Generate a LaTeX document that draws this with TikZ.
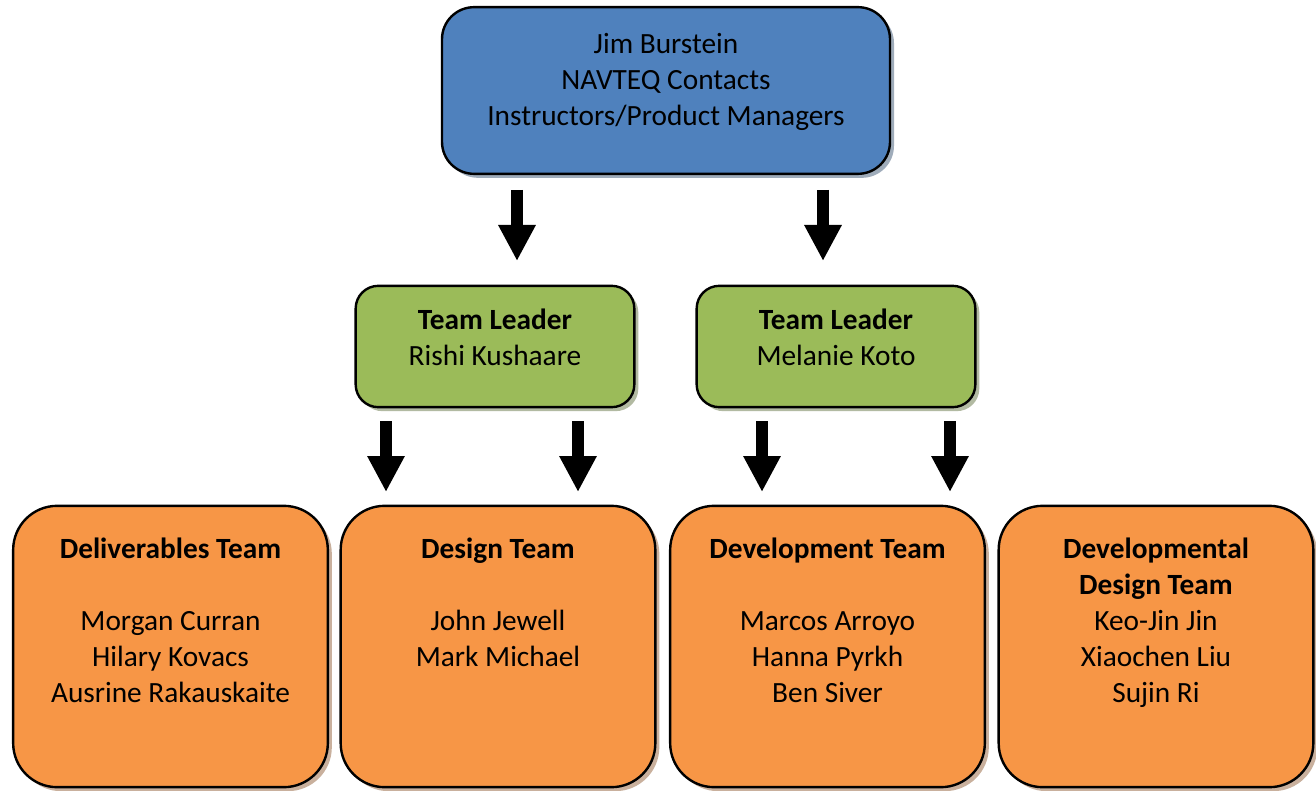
\documentclass[tikz,border=0pt]{standalone}
\usepackage{fontspec}
\setmainfont{Carlito}
\usetikzlibrary{arrows.meta,shadows}
\definecolor{topblue}{HTML}{4F81BD}
\definecolor{leadgreen}{HTML}{9BBB59}
\definecolor{teamorange}{HTML}{F79646}
\begin{document}
\begin{tikzpicture}[x=0.75pt, y=-0.75pt,
    box/.style={draw=black, line width=1.8pt},
    topbox/.style={box, fill=topblue, rounded corners=24pt,
        minimum width=336pt, minimum height=125pt,
        drop shadow={shadow xshift=3pt, shadow yshift=-3pt, fill=topblue!55!black, opacity=.45}},
    leadbox/.style={box, fill=leadgreen, rounded corners=17pt,
        minimum width=209pt, minimum height=91pt,
        drop shadow={shadow xshift=3pt, shadow yshift=-3pt, fill=leadgreen!55!black, opacity=.45}},
    teambox/.style={box, fill=teamorange, rounded corners=33pt,
        minimum width=236pt, minimum height=211pt,
        drop shadow={shadow xshift=3pt, shadow yshift=-3pt, fill=teamorange!55!black, opacity=.45}},
    txt/.style={anchor=north, inner sep=0pt, align=center, font=\fontsize{22}{27}\selectfont},
    blockarrow/.style={line width=9pt, -{Triangle[width=26.25pt, length=27pt]}}]
    \fill[white] (0,0) rectangle (1316,791);
    \useasboundingbox (0,0) rectangle (1316,791);

    % top
    \node[topbox] (navteq) at (666,90.5) {};
    \node[txt] (navteq-txt) at (666,33) {Jim Burstein\\NAVTEQ Contacts\\Instructors/Product Managers};

    % team leaders
    \node[leadbox] (leadA) at (495,346.5) {};
    \node[txt] (leadA-txt) at (495,309) {\textbf{Team Leader}\\Rishi Kushaare};
    \node[leadbox] (leadB) at (836,346.5) {};
    \node[txt] (leadB-txt) at (836,309) {\textbf{Team Leader}\\Melanie Koto};

    % teams
    \node[teambox] (deliver) at (170.5,646.5) {};
    \node[txt] (deliver-txt) at (170.5,538) {\textbf{Deliverables Team}\\\strut\\Morgan Curran\\Hilary Kovacs\\Ausrine Rakauskaite};
    \node[teambox] (design) at (498,646.5) {};
    \node[txt] (design-txt) at (498,538) {\textbf{Design Team}\\\strut\\John Jewell\\Mark Michael};
    \node[teambox] (develop) at (827.5,646.5) {};
    \node[txt] (develop-txt) at (827.5,538) {\textbf{Development Team}\\\strut\\Marcos Arroyo\\Hanna Pyrkh\\Ben Siver};
    \node[teambox] (devdesign) at (1156,646.5) {};
    \node[txt] (devdesign-txt) at (1156,538) {\textbf{Developmental}\\\textbf{Design Team}\\Keo-Jin Jin\\Xiaochen Liu\\Sujin Ri};

    % arrows
    \coordinate (arrA-s) at (517,190);
    \coordinate (arrA-e) at (517,261);
    \coordinate (arrB-s) at (823,190);
    \coordinate (arrB-e) at (823,261);
    \coordinate (arrC-s) at (386,421);
    \coordinate (arrC-e) at (386,492);
    \coordinate (arrD-s) at (578,421);
    \coordinate (arrD-e) at (578,492);
    \coordinate (arrE-s) at (762,421);
    \coordinate (arrE-e) at (762,492);
    \coordinate (arrF-s) at (950,421);
    \coordinate (arrF-e) at (950,492);
    \foreach \a in {A,B,C,D,E,F}
        \draw[blockarrow] (arr\a-s) -- (arr\a-e);
\end{tikzpicture}
\end{document}
